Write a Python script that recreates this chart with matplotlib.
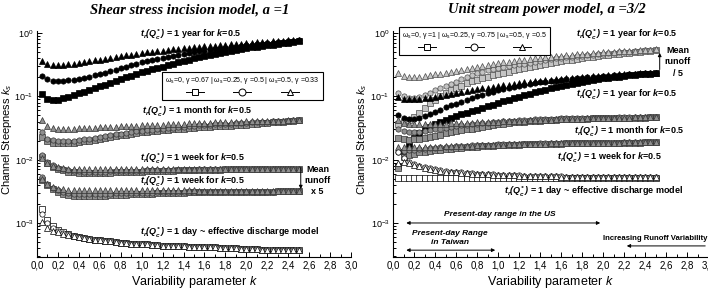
import matplotlib
matplotlib.use("Agg")
import matplotlib.pyplot as plt
import numpy as np
from matplotlib.lines import Line2D
from matplotlib.ticker import MultipleLocator, FuncFormatter, LogLocator, NullFormatter

plt.rcParams["font.family"] = ["Liberation Sans", "DejaVu Sans"]
plt.rcParams["mathtext.fontset"] = "custom"
plt.rcParams["mathtext.rm"] = "Liberation Sans"
plt.rcParams["mathtext.it"] = "Liberation Sans:italic"
plt.rcParams["mathtext.bf"] = "Liberation Sans:bold"
plt.rcParams["mathtext.bfit"] = "Liberation Sans:italic:bold"
plt.rcParams["mathtext.sf"] = "Liberation Sans"

# variability parameter k (0.05 ... 2.50)
k_values = [round(0.05 * i, 2) for i in range(1, 51)]

# ---------------- left panel: shear stress model, a = 1 ----------------
l_year_sq = [0.109, 0.091, 0.088, 0.088, 0.093, 0.099, 0.105, 0.112, 0.119, 0.126,
             0.135, 0.144, 0.153, 0.164, 0.175, 0.186, 0.199, 0.212, 0.227, 0.242,
             0.255, 0.268, 0.282, 0.296, 0.312, 0.328, 0.345, 0.363, 0.381, 0.400,
             0.415, 0.431, 0.447, 0.464, 0.482, 0.500, 0.519, 0.539, 0.559, 0.580,
             0.595, 0.610, 0.626, 0.642, 0.658, 0.675, 0.692, 0.710, 0.728, 0.747]
l_year_ci = [0.210, 0.185, 0.177, 0.175, 0.176, 0.179, 0.183, 0.190, 0.196, 0.203,
             0.214, 0.226, 0.238, 0.251, 0.265, 0.280, 0.295, 0.311, 0.329, 0.348,
             0.360, 0.374, 0.388, 0.402, 0.417, 0.432, 0.448, 0.465, 0.482, 0.500,
             0.513, 0.526, 0.540, 0.554, 0.568, 0.583, 0.598, 0.614, 0.630, 0.646,
             0.658, 0.670, 0.683, 0.695, 0.708, 0.722, 0.735, 0.749, 0.763, 0.775]
l_year_tr = [0.360, 0.320, 0.310, 0.310, 0.316, 0.322, 0.330, 0.338, 0.348, 0.360,
             0.371, 0.382, 0.393, 0.405, 0.417, 0.430, 0.443, 0.456, 0.470, 0.483,
             0.494, 0.505, 0.516, 0.527, 0.539, 0.551, 0.563, 0.575, 0.588, 0.601,
             0.610, 0.619, 0.628, 0.637, 0.646, 0.656, 0.665, 0.675, 0.685, 0.695,
             0.704, 0.713, 0.722, 0.731, 0.741, 0.750, 0.760, 0.770, 0.780, 0.790]

l_month_sq = [0.0230, 0.0195, 0.0186, 0.0182, 0.0181, 0.0183, 0.0186, 0.0190, 0.0195, 0.0200,
              0.0207, 0.0214, 0.0221, 0.0228, 0.0235, 0.0242, 0.0249, 0.0256, 0.0263, 0.0270,
              0.0275, 0.0280, 0.0285, 0.0290, 0.0295, 0.0300, 0.0305, 0.0310, 0.0315, 0.0320,
              0.0324, 0.0328, 0.0332, 0.0336, 0.0340, 0.0343, 0.0346, 0.0350, 0.0353, 0.0356,
              0.0362, 0.0369, 0.0375, 0.0382, 0.0388, 0.0394, 0.0401, 0.0407, 0.0414, 0.0420]
l_month_ci = [0.0270, 0.0215, 0.0202, 0.0197, 0.0196, 0.0198, 0.0201, 0.0205, 0.0210, 0.0216,
              0.0223, 0.0230, 0.0237, 0.0244, 0.0251, 0.0258, 0.0265, 0.0272, 0.0279, 0.0286,
              0.0292, 0.0298, 0.0304, 0.0310, 0.0316, 0.0322, 0.0327, 0.0332, 0.0337, 0.0342,
              0.0347, 0.0352, 0.0356, 0.0360, 0.0364, 0.0368, 0.0372, 0.0376, 0.0380, 0.0384,
              0.0388, 0.0392, 0.0396, 0.0400, 0.0403, 0.0406, 0.0410, 0.0413, 0.0417, 0.0420]
l_month_tr = [0.0420, 0.0340, 0.0320, 0.0310, 0.0310, 0.0310, 0.0311, 0.0313, 0.0315, 0.0317,
              0.0320, 0.0323, 0.0326, 0.0329, 0.0332, 0.0335, 0.0338, 0.0341, 0.0344, 0.0347,
              0.0350, 0.0353, 0.0356, 0.0359, 0.0362, 0.0365, 0.0368, 0.0371, 0.0374, 0.0377,
              0.0380, 0.0383, 0.0386, 0.0389, 0.0392, 0.0394, 0.0396, 0.0398, 0.0400, 0.0402,
              0.0404, 0.0406, 0.0408, 0.0410, 0.0412, 0.0414, 0.0416, 0.0418, 0.0420, 0.0422]

l_week_sq = [0.0110, 0.0089, 0.0078, 0.0072, 0.0068, 0.0065, 0.0063, 0.0062, 0.0061, 0.0061,
             0.0061, 0.0061, 0.0062, 0.0062, 0.0063, 0.0063, 0.0064, 0.0064, 0.0065, 0.0065,
             0.0066, 0.0066, 0.0066, 0.0067, 0.0067, 0.0067, 0.0068, 0.0068, 0.0068, 0.0068,
             0.0069, 0.0069, 0.0069, 0.0069, 0.0069, 0.0070, 0.0070, 0.0070, 0.0070, 0.0070,
             0.0070, 0.0070, 0.0070, 0.0071, 0.0071, 0.0071, 0.0071, 0.0071, 0.0071, 0.0071]
l_week_ci = [0.0118, 0.0092, 0.0081, 0.0075, 0.0071, 0.0068, 0.0067, 0.0066, 0.0065, 0.0065,
             0.0065, 0.0065, 0.0065, 0.0066, 0.0066, 0.0066, 0.0067, 0.0067, 0.0067, 0.0067,
             0.0068, 0.0068, 0.0068, 0.0068, 0.0069, 0.0069, 0.0069, 0.0069, 0.0069, 0.0069,
             0.0070, 0.0070, 0.0070, 0.0070, 0.0070, 0.0070, 0.0070, 0.0070, 0.0070, 0.0070,
             0.0070, 0.0070, 0.0071, 0.0071, 0.0071, 0.0071, 0.0071, 0.0071, 0.0071, 0.0071]
l_week_tr = [0.0105, 0.0088, 0.0080, 0.0076, 0.0073, 0.0072, 0.0071, 0.0070, 0.0070, 0.0070,
             0.0070, 0.0070, 0.0070, 0.0070, 0.0070, 0.0070, 0.0070, 0.0070, 0.0070, 0.0070,
             0.0070, 0.0070, 0.0070, 0.0070, 0.0070, 0.0070, 0.0071, 0.0071, 0.0071, 0.0071,
             0.0071, 0.0071, 0.0071, 0.0071, 0.0071, 0.0071, 0.0071, 0.0071, 0.0071, 0.0071,
             0.0071, 0.0071, 0.0071, 0.0072, 0.0072, 0.0072, 0.0072, 0.0072, 0.0072, 0.0072]

l_week5_sq = [0.0048, 0.0040, 0.0034, 0.0031, 0.0029, 0.0028, 0.0027, 0.0027, 0.0027, 0.0027,
              0.0027, 0.0027, 0.0027, 0.0028, 0.0028, 0.0028, 0.0028, 0.0029, 0.0029, 0.0029,
              0.0029, 0.0029, 0.0030, 0.0030, 0.0030, 0.0030, 0.0030, 0.0030, 0.0031, 0.0031,
              0.0031, 0.0031, 0.0031, 0.0031, 0.0031, 0.0031, 0.0031, 0.0031, 0.0031, 0.0031,
              0.0031, 0.0031, 0.0031, 0.0031, 0.0031, 0.0032, 0.0032, 0.0032, 0.0032, 0.0032]
l_week5_ci = [0.0053, 0.0042, 0.0036, 0.0033, 0.0031, 0.0030, 0.0029, 0.0029, 0.0029, 0.0029,
              0.0029, 0.0029, 0.0029, 0.0029, 0.0030, 0.0030, 0.0030, 0.0030, 0.0030, 0.0030,
              0.0030, 0.0030, 0.0031, 0.0031, 0.0031, 0.0031, 0.0031, 0.0031, 0.0031, 0.0031,
              0.0031, 0.0031, 0.0031, 0.0031, 0.0031, 0.0031, 0.0031, 0.0031, 0.0031, 0.0031,
              0.0031, 0.0031, 0.0031, 0.0031, 0.0031, 0.0032, 0.0032, 0.0032, 0.0032, 0.0032]
l_week5_tr = [0.0050, 0.0041, 0.0037, 0.0035, 0.0034, 0.0033, 0.0033, 0.0033, 0.0033, 0.0033,
              0.0033, 0.0033, 0.0033, 0.0033, 0.0033, 0.0033, 0.0033, 0.0033, 0.0033, 0.0033,
              0.0033, 0.0033, 0.0033, 0.0033, 0.0033, 0.0033, 0.0033, 0.0033, 0.0033, 0.0033,
              0.0032, 0.0032, 0.0032, 0.0032, 0.0032, 0.0032, 0.0032, 0.0032, 0.0032, 0.0032,
              0.0032, 0.0032, 0.0032, 0.0032, 0.0032, 0.0032, 0.0032, 0.0032, 0.0032, 0.0032]

l_day_sq = [0.00166, 0.00112, 0.00088, 0.00078, 0.00072, 0.00067, 0.00063, 0.00060, 0.00058, 0.00056,
            0.00054, 0.00053, 0.00052, 0.00051, 0.00050, 0.00049, 0.00048, 0.00047, 0.00047, 0.00046,
            0.00046, 0.00045, 0.00045, 0.00044, 0.00044, 0.00043, 0.00043, 0.00043, 0.00042, 0.00042,
            0.00042, 0.00041, 0.00041, 0.00041, 0.00040, 0.00040, 0.00040, 0.00040, 0.00039, 0.00039,
            0.00039, 0.00039, 0.00038, 0.00038, 0.00038, 0.00038, 0.00037, 0.00037, 0.00037, 0.00037]
l_day_ci = [0.00140, 0.00100, 0.00084, 0.00076, 0.00070, 0.00066, 0.00062, 0.00060, 0.00058, 0.00056,
            0.00054, 0.00053, 0.00052, 0.00051, 0.00050, 0.00049, 0.00048, 0.00047, 0.00047, 0.00046,
            0.00046, 0.00045, 0.00045, 0.00044, 0.00044, 0.00043, 0.00043, 0.00043, 0.00042, 0.00042,
            0.00042, 0.00041, 0.00041, 0.00041, 0.00040, 0.00040, 0.00040, 0.00040, 0.00039, 0.00039,
            0.00039, 0.00039, 0.00038, 0.00038, 0.00038, 0.00038, 0.00037, 0.00037, 0.00037, 0.00037]
l_day_tr = [0.00104, 0.00083, 0.00076, 0.00072, 0.00068, 0.00065, 0.00062, 0.00060, 0.00058, 0.00056,
            0.00054, 0.00053, 0.00052, 0.00051, 0.00050, 0.00049, 0.00048, 0.00047, 0.00047, 0.00046,
            0.00046, 0.00045, 0.00045, 0.00044, 0.00044, 0.00043, 0.00043, 0.00043, 0.00042, 0.00042,
            0.00042, 0.00041, 0.00041, 0.00041, 0.00040, 0.00040, 0.00040, 0.00040, 0.00039, 0.00039,
            0.00039, 0.00039, 0.00038, 0.00038, 0.00038, 0.00038, 0.00037, 0.00037, 0.00037, 0.00037]

# ---------------- right panel: unit stream power model, a = 3/2 ----------------
r_year5_sq = [0.036, 0.040, 0.043, 0.047, 0.055, 0.066, 0.078, 0.088, 0.100, 0.112,
              0.124, 0.136, 0.148, 0.160, 0.172, 0.184, 0.195, 0.205, 0.215, 0.225,
              0.235, 0.246, 0.257, 0.268, 0.279, 0.290, 0.302, 0.314, 0.326, 0.338,
              0.349, 0.360, 0.371, 0.382, 0.393, 0.404, 0.415, 0.426, 0.437, 0.447,
              0.456, 0.465, 0.474, 0.483, 0.492, 0.501, 0.510, 0.519, 0.528, 0.537]
r_year5_ci = [0.114, 0.100, 0.096, 0.095, 0.097, 0.105, 0.114, 0.124, 0.134, 0.145,
              0.158, 0.171, 0.185, 0.201, 0.218, 0.235, 0.246, 0.257, 0.268, 0.280,
              0.290, 0.300, 0.310, 0.320, 0.331, 0.342, 0.354, 0.366, 0.378, 0.390,
              0.398, 0.406, 0.414, 0.422, 0.431, 0.440, 0.449, 0.458, 0.466, 0.475,
              0.482, 0.489, 0.496, 0.504, 0.511, 0.519, 0.527, 0.535, 0.542, 0.550]
r_year5_tr = [0.235, 0.212, 0.203, 0.201, 0.204, 0.209, 0.215, 0.222, 0.230, 0.238,
              0.247, 0.256, 0.265, 0.275, 0.285, 0.295, 0.305, 0.315, 0.325, 0.335,
              0.344, 0.353, 0.362, 0.371, 0.380, 0.389, 0.398, 0.407, 0.416, 0.425,
              0.432, 0.439, 0.446, 0.453, 0.460, 0.467, 0.474, 0.481, 0.488, 0.495,
              0.501, 0.507, 0.513, 0.519, 0.525, 0.531, 0.537, 0.543, 0.549, 0.555]

r_year_sq = [0.008, 0.013, 0.018, 0.022, 0.026, 0.030, 0.033, 0.036, 0.040, 0.043,
             0.046, 0.049, 0.052, 0.055, 0.058, 0.062, 0.066, 0.070, 0.074, 0.079,
             0.084, 0.089, 0.094, 0.099, 0.104, 0.110, 0.116, 0.122, 0.128, 0.134,
             0.140, 0.146, 0.152, 0.158, 0.164, 0.170, 0.176, 0.182, 0.187, 0.192,
             0.197, 0.202, 0.206, 0.210, 0.214, 0.218, 0.222, 0.226, 0.229, 0.232]
r_year_ci = [0.051, 0.046, 0.044, 0.044, 0.046, 0.049, 0.053, 0.057, 0.062, 0.067,
             0.072, 0.077, 0.082, 0.088, 0.094, 0.100, 0.106, 0.112, 0.118, 0.125,
             0.131, 0.137, 0.142, 0.147, 0.152, 0.157, 0.162, 0.166, 0.170, 0.174,
             0.178, 0.182, 0.186, 0.190, 0.194, 0.197, 0.200, 0.203, 0.206, 0.209,
             0.212, 0.215, 0.218, 0.221, 0.224, 0.227, 0.229, 0.231, 0.233, 0.235]
r_year_tr = [0.098, 0.092, 0.090, 0.090, 0.091, 0.093, 0.096, 0.099, 0.102, 0.106,
             0.110, 0.114, 0.118, 0.122, 0.126, 0.130, 0.134, 0.138, 0.142, 0.146,
             0.150, 0.154, 0.158, 0.162, 0.166, 0.170, 0.174, 0.177, 0.180, 0.183,
             0.186, 0.189, 0.192, 0.195, 0.198, 0.201, 0.204, 0.207, 0.210, 0.213,
             0.216, 0.219, 0.222, 0.225, 0.227, 0.229, 0.231, 0.233, 0.235, 0.237]

r_month_sq = [0.0220, 0.0210, 0.0205, 0.0210, 0.0215, 0.0220, 0.0230, 0.0240, 0.0250, 0.0260,
              0.0270, 0.0280, 0.0290, 0.0300, 0.0310, 0.0320, 0.0330, 0.0340, 0.0350, 0.0360,
              0.0370, 0.0380, 0.0388, 0.0395, 0.0400, 0.0405, 0.0410, 0.0415, 0.0420, 0.0425,
              0.0430, 0.0433, 0.0436, 0.0439, 0.0442, 0.0445, 0.0447, 0.0449, 0.0451, 0.0453,
              0.0455, 0.0457, 0.0459, 0.0460, 0.0461, 0.0462, 0.0463, 0.0464, 0.0465, 0.0466]
r_month_ci = [0.0310, 0.0280, 0.0270, 0.0270, 0.0275, 0.0280, 0.0290, 0.0300, 0.0310, 0.0320,
              0.0330, 0.0340, 0.0348, 0.0356, 0.0364, 0.0372, 0.0380, 0.0386, 0.0392, 0.0398,
              0.0404, 0.0410, 0.0415, 0.0420, 0.0424, 0.0428, 0.0432, 0.0436, 0.0440, 0.0443,
              0.0446, 0.0449, 0.0451, 0.0453, 0.0455, 0.0457, 0.0459, 0.0460, 0.0461, 0.0462,
              0.0463, 0.0464, 0.0465, 0.0466, 0.0467, 0.0468, 0.0469, 0.0470, 0.0470, 0.0470]
r_month_tr = [0.0430, 0.0380, 0.0360, 0.0360, 0.0360, 0.0360, 0.0362, 0.0365, 0.0368, 0.0371,
              0.0374, 0.0377, 0.0380, 0.0383, 0.0386, 0.0389, 0.0392, 0.0395, 0.0398, 0.0401,
              0.0404, 0.0407, 0.0410, 0.0413, 0.0416, 0.0419, 0.0422, 0.0425, 0.0428, 0.0431,
              0.0434, 0.0437, 0.0440, 0.0442, 0.0444, 0.0446, 0.0448, 0.0450, 0.0452, 0.0454,
              0.0456, 0.0458, 0.0460, 0.0462, 0.0464, 0.0466, 0.0467, 0.0468, 0.0469, 0.0470]

r_week_sq = [0.0075, 0.0110, 0.0120, 0.0125, 0.0130, 0.0134, 0.0138, 0.0141, 0.0144, 0.0147,
             0.0150, 0.0152, 0.0154, 0.0156, 0.0158, 0.0160, 0.0162, 0.0164, 0.0166, 0.0168,
             0.0170, 0.0171, 0.0172, 0.0173, 0.0174, 0.0175, 0.0176, 0.0177, 0.0178, 0.0179,
             0.0180, 0.0180, 0.0181, 0.0181, 0.0182, 0.0182, 0.0183, 0.0183, 0.0184, 0.0184,
             0.0184, 0.0185, 0.0185, 0.0185, 0.0186, 0.0186, 0.0186, 0.0187, 0.0187, 0.0187]
r_week_ci = [0.0130, 0.0135, 0.0140, 0.0143, 0.0146, 0.0149, 0.0152, 0.0155, 0.0157, 0.0159,
             0.0161, 0.0163, 0.0165, 0.0167, 0.0169, 0.0170, 0.0171, 0.0172, 0.0173, 0.0174,
             0.0175, 0.0176, 0.0177, 0.0178, 0.0179, 0.0180, 0.0180, 0.0181, 0.0181, 0.0182,
             0.0182, 0.0183, 0.0183, 0.0184, 0.0184, 0.0184, 0.0185, 0.0185, 0.0185, 0.0186,
             0.0186, 0.0186, 0.0186, 0.0187, 0.0187, 0.0187, 0.0187, 0.0188, 0.0188, 0.0188]
r_week_tr = [0.0160, 0.0158, 0.0156, 0.0156, 0.0157, 0.0158, 0.0159, 0.0160, 0.0161, 0.0162,
             0.0163, 0.0164, 0.0165, 0.0166, 0.0167, 0.0168, 0.0169, 0.0170, 0.0171, 0.0172,
             0.0173, 0.0174, 0.0175, 0.0176, 0.0177, 0.0178, 0.0179, 0.0180, 0.0180, 0.0181,
             0.0181, 0.0182, 0.0182, 0.0183, 0.0183, 0.0184, 0.0184, 0.0185, 0.0185, 0.0185,
             0.0186, 0.0186, 0.0186, 0.0187, 0.0187, 0.0187, 0.0188, 0.0188, 0.0188, 0.0189]

r_day_sq = [0.0051, 0.0051, 0.0051, 0.0051, 0.0051, 0.0051, 0.0051, 0.0051, 0.0051, 0.0051,
            0.0051, 0.0051, 0.0051, 0.0051, 0.0051, 0.0051, 0.0051, 0.0051, 0.0051, 0.0051,
            0.0051, 0.0051, 0.0051, 0.0051, 0.0051, 0.0051, 0.0051, 0.0051, 0.0051, 0.0051,
            0.0051, 0.0051, 0.0051, 0.0051, 0.0051, 0.0051, 0.0051, 0.0051, 0.0051, 0.0051,
            0.0051, 0.0051, 0.0051, 0.0051, 0.0051, 0.0051, 0.0051, 0.0051, 0.0051, 0.0051]
r_day_ci = [0.0130, 0.0105, 0.0093, 0.0086, 0.0080, 0.0076, 0.0073, 0.0070, 0.0068, 0.0066,
            0.0065, 0.0064, 0.0063, 0.0062, 0.0061, 0.0060, 0.0060, 0.0059, 0.0059, 0.0058,
            0.0058, 0.0057, 0.0057, 0.0057, 0.0056, 0.0056, 0.0056, 0.0055, 0.0055, 0.0055,
            0.0055, 0.0055, 0.0054, 0.0054, 0.0054, 0.0054, 0.0054, 0.0054, 0.0053, 0.0053,
            0.0053, 0.0053, 0.0053, 0.0053, 0.0053, 0.0053, 0.0053, 0.0053, 0.0053, 0.0053]
r_day_tr = [0.0090, 0.0093, 0.0088, 0.0083, 0.0079, 0.0075, 0.0072, 0.0069, 0.0067, 0.0065,
            0.0064, 0.0063, 0.0062, 0.0061, 0.0060, 0.0060, 0.0059, 0.0059, 0.0058, 0.0058,
            0.0057, 0.0057, 0.0057, 0.0056, 0.0056, 0.0056, 0.0055, 0.0055, 0.0055, 0.0055,
            0.0055, 0.0054, 0.0054, 0.0054, 0.0054, 0.0054, 0.0054, 0.0053, 0.0053, 0.0053,
            0.0053, 0.0053, 0.0053, 0.0053, 0.0053, 0.0053, 0.0053, 0.0053, 0.0053, 0.0053]

BLACK = ("black", "black")
GRAY = ("#8f8f8f", "#333333")
LIGHT = ("#c4c4c4", "#4d4d4d")
WHITE = ("white", "black")


def draw_group(ax, sq, ci, tr, colors):
    face, edge = colors
    for vals, m in ((sq, "s"), (ci, "o"), (tr, "^")):
        ax.plot(k_values, vals, ls="none", marker=m, ms=3.8, mfc=face, mec=edge, mew=0.5)


def style_axes(ax):
    ax.set_yscale("log")
    ax.set_xlim(0, 3.0)
    ax.set_ylim(2.9e-4, 1.08)
    ax.spines["top"].set_visible(False)
    ax.spines["right"].set_visible(False)
    ax.xaxis.set_major_locator(MultipleLocator(0.2))
    ax.xaxis.set_minor_locator(MultipleLocator(0.1))
    ax.xaxis.set_major_formatter(FuncFormatter(lambda v, p: f"{v:.1f}".replace(".", ",")))
    ax.yaxis.set_major_locator(LogLocator(base=10, numticks=10))
    ax.yaxis.set_minor_locator(LogLocator(base=10, subs=np.arange(2, 10), numticks=10))
    ax.yaxis.set_minor_formatter(NullFormatter())
    ax.tick_params(which="both", direction="in", width=0.7, pad=2.5)
    ax.tick_params(axis="x", labelsize=7)
    ax.tick_params(axis="y", labelsize=6.5)
    ax.tick_params(which="major", length=3.5)
    ax.tick_params(which="minor", length=2)
    ax.set_ylabel(r"Channel Steepness $k_s$", fontsize=8)
    ax.set_xlabel(r"Variability parameter $k$", fontsize=9)
    ax.xaxis.set_label_coords(0.5, -0.075)


def label(ax, x, y, what, **kw):
    ax.text(x, y, r"$\mathbfit{t_r(Q^*_c)}$ = " + what, fontsize=6.5,
            fontweight="bold", va="center", **kw)


def marker_legend(ax, title, anchor):
    hs = [Line2D([0], [0], color="black", lw=0.7, marker=m, ms=5, mfc="white",
                 mec="black", mew=0.7) for m in ("s", "o", "^")]
    leg = ax.legend(handles=hs, labels=["", "", ""], ncol=3, title=title,
                    title_fontsize=5, fontsize=5, loc="upper left", bbox_to_anchor=anchor,
                    fancybox=False, edgecolor="black",
                    handlelength=2.6, handleheight=1.0, handletextpad=0,
                    columnspacing=4.2, borderpad=0.45, borderaxespad=0, framealpha=1)
    leg.get_frame().set_linewidth(0.8)


fig = plt.figure(figsize=(7.08, 2.92), dpi=100)
ax1 = fig.add_axes([37 / 708, 35 / 292, 314 / 708, 226 / 292])
ax2 = fig.add_axes([393 / 708, 35 / 292, 315 / 708, 226 / 292])

# left panel
draw_group(ax1, l_year_sq, l_year_ci, l_year_tr, BLACK)
draw_group(ax1, l_month_sq, l_month_ci, l_month_tr, GRAY)
draw_group(ax1, l_week_sq, l_week_ci, l_week_tr, GRAY)
draw_group(ax1, l_week5_sq, l_week5_ci, l_week5_tr, GRAY)
draw_group(ax1, l_day_sq, l_day_ci, l_day_tr, WHITE)
style_axes(ax1)
ax1.yaxis.set_label_coords(-0.072, 0.52)

label(ax1, 0.98, 0.93, r"1 year for $\mathbfit{k}$=0.5")
label(ax1, 1.0, 0.056, r"1 month for $\mathbfit{k}$=0.5")
label(ax1, 0.98, 0.0102, r"1 week for $\mathbfit{k}$=0.5")
label(ax1, 0.98, 0.0044, r"1 week for $\mathbfit{k}$=0.5")
label(ax1, 0.98, 0.00070, "1 day ~ effective discharge model")
ax1.text(2.68, 0.0047, "Mean\nrunoff\nx 5", fontsize=6.5, fontweight="bold",
         ha="center", va="center", linespacing=1.3)
ax1.annotate("", xy=(2.52, 0.0031), xytext=(2.52, 0.0083),
             arrowprops=dict(arrowstyle="-|>", lw=0.7, color="black", mutation_scale=5))
marker_legend(ax1, r"ω$_{\mathsf{s}}$=0, γ =0.67 | ω$_{\mathsf{s}}$=0.25, γ =0.5 | ω$_{\mathsf{s}}$=0.5, γ =0.33",
              (0.398, 0.819))

# right panel
draw_group(ax2, r_year5_sq, r_year5_ci, r_year5_tr, LIGHT)
draw_group(ax2, r_year_sq, r_year_ci, r_year_tr, BLACK)
draw_group(ax2, r_month_sq, r_month_ci, r_month_tr, GRAY)
draw_group(ax2, r_week_sq, r_week_ci, r_week_tr, GRAY)
draw_group(ax2, r_day_sq, r_day_ci, r_day_tr, WHITE)
style_axes(ax2)
ax2.yaxis.set_label_coords(-0.075, 0.52)

label(ax2, 1.74, 0.93, r"1 year for $\mathbfit{k}$=0.5")
label(ax2, 1.74, 0.105, r"1 year for $\mathbfit{k}$=0.5")
label(ax2, 1.72, 0.0273, r"1 month for $\mathbfit{k}$=0.5")
label(ax2, 1.56, 0.0106, r"1 week for $\mathbfit{k}$=0.5")
label(ax2, 1.06, 0.0031, "1 day ~ effective discharge model")
ax2.text(2.71, 0.35, "Mean\nrunoff\n/ 5", fontsize=6.5, fontweight="bold",
         ha="center", va="center", linespacing=1.3)
ax2.annotate("", xy=(2.54, 0.54), xytext=(2.54, 0.24),
             arrowprops=dict(arrowstyle="-|>", lw=0.7, color="black", mutation_scale=5))

ax2.text(1.02, 0.00119, "Present-day range in the US", fontsize=6, fontweight="bold",
         style="italic", ha="center", va="bottom")
ax2.annotate("", xy=(0.1, 0.001), xytext=(2.0, 0.001),
             arrowprops=dict(arrowstyle="<|-|>", lw=0.7, color="black", mutation_scale=5))
ax2.text(0.54, 0.000578, "Present-day Range\nin Taiwan", fontsize=6, fontweight="bold",
         style="italic", ha="center", va="center", linespacing=1.3)
ax2.annotate("", xy=(0.1, 0.000372), xytext=(1.0, 0.000372),
             arrowprops=dict(arrowstyle="<|-|>", lw=0.7, color="black", mutation_scale=5))
ax2.text(2.99, 0.000578, "Increasing Runoff Variability", fontsize=5.6, fontweight="bold",
         ha="right", va="center")
ax2.annotate("", xy=(2.2, 0.000434), xytext=(3.0, 0.000434),
             arrowprops=dict(arrowstyle="-|>", lw=0.7, color="black", mutation_scale=5))
marker_legend(ax2, r"ω$_{\mathsf{s}}$=0, γ =1 | ω$_{\mathsf{s}}$=0.25, γ =0.75 | ω$_{\mathsf{s}}$=0.5, γ =0.5",
              (0.019, 1.018))

# titles
fig.text(190 / 708, 1 - 10 / 292, "Shear stress incision model, a =1", family="Liberation Serif",
         fontsize=10.5, fontweight="bold", style="italic", ha="center", va="center")
fig.text(547 / 708, 1 - 10 / 292, "Unit stream power model, a =3/2", family="Liberation Serif",
         fontsize=10.5, fontweight="bold", style="italic", ha="center", va="center")

fig.savefig("out.png", dpi=100)
